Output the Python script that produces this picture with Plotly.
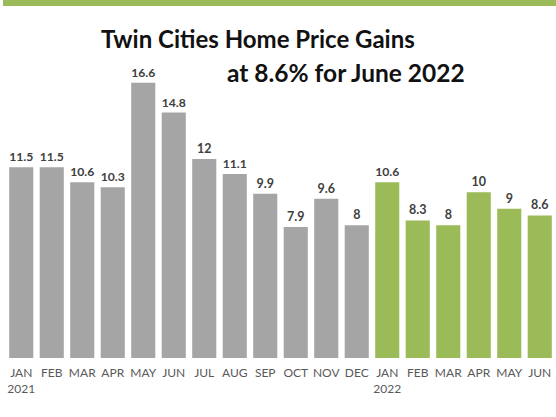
import plotly.graph_objects as go

months = ['JAN', 'FEB', 'MAR', 'APR', 'MAY', 'JUN', 'JUL', 'AUG', 'SEP', 'OCT', 'NOV', 'DEC',
          'JAN', 'FEB', 'MAR', 'APR', 'MAY', 'JUN']
years = ['2021', '', '', '', '', '', '', '', '', '', '', '', '2022', '', '', '', '', '']
gains_2021 = [11.5, 11.5, 10.6, 10.3, 16.6, 14.8, 12, 11.1, 9.9, 7.9, 9.6, 8]
gains_2022 = [10.6, 8.3, 8, 10, 9, 8.6]

gray = '#a5a5a5'
green = '#9bbb59'

values = gains_2021 + gains_2022
colors = [gray] * len(gains_2021) + [green] * len(gains_2022)
xpos = list(range(len(values)))
# month label, with the year under the first month of each year
ticktext = [m + ('<br>' + y if y else '') for m, y in zip(months, years)]

fig = go.Figure()
fig.add_trace(go.Bar(
    x=xpos,
    y=values,
    marker=dict(color=colors, line=dict(width=0)),
    text=['<b>%s</b>' % v for v in values],
    textposition='outside',
    textfont=dict(family='Lato', size=12.5, color='#404040'),
    cliponaxis=False,
))

# plot area: left 6px, right 1px, top 40px, bottom 59px
W, H = 556, 417
ml, mr, mt, mb = 6, 1, 40, 59
pw, ph = W - ml - mr, H - mt - mb

def px_x(x):
  return (x - ml) / pw

def px_y(y):
  return (H - mb - y) / ph

fig.update_layout(
    width=W,
    height=H,
    margin=dict(l=ml, r=mr, t=mt, b=mb),
    paper_bgcolor='white',
    plot_bgcolor='white',
    showlegend=False,
    bargap=0.21,
    xaxis=dict(
        tickmode='array',
        tickvals=xpos,
        ticktext=ticktext,
        range=[-0.5, len(values) - 0.5],
        showgrid=False,
        zeroline=False,
        showline=False,
        ticks='',
        ticklabelstandoff=6,
        tickfont=dict(family='Lato', size=12, color='#595959'),
    ),
    yaxis=dict(
        range=[0, ph / 16.58],
        visible=False,
        showgrid=False,
        zeroline=False,
    ),
    shapes=[dict(
        type='rect', xref='paper', yref='paper',
        x0=px_x(3), x1=px_x(W), y0=px_y(6), y1=px_y(0),
        fillcolor=green, line=dict(width=0), layer='above',
    )],
    annotations=[
        dict(text='<b>Twin Cities Home Price Gains</b>', xref='paper', yref='paper',
             x=px_x(258), y=px_y(38), xanchor='center', yanchor='middle', showarrow=False,
             font=dict(family='Lato', size=24, color='#111111')),
        dict(text='<b>at 8.6% for June 2022</b>', xref='paper', yref='paper',
             x=px_x(346), y=px_y(72), xanchor='center', yanchor='middle', showarrow=False,
             font=dict(family='Lato', size=24.5, color='#111111')),
    ],
)

# page has a default body margin; drop it so the figure fills the window
fig.write_html('out.html', config={'displayModeBar': False},
               post_script="document.body.style.margin='0px';")
